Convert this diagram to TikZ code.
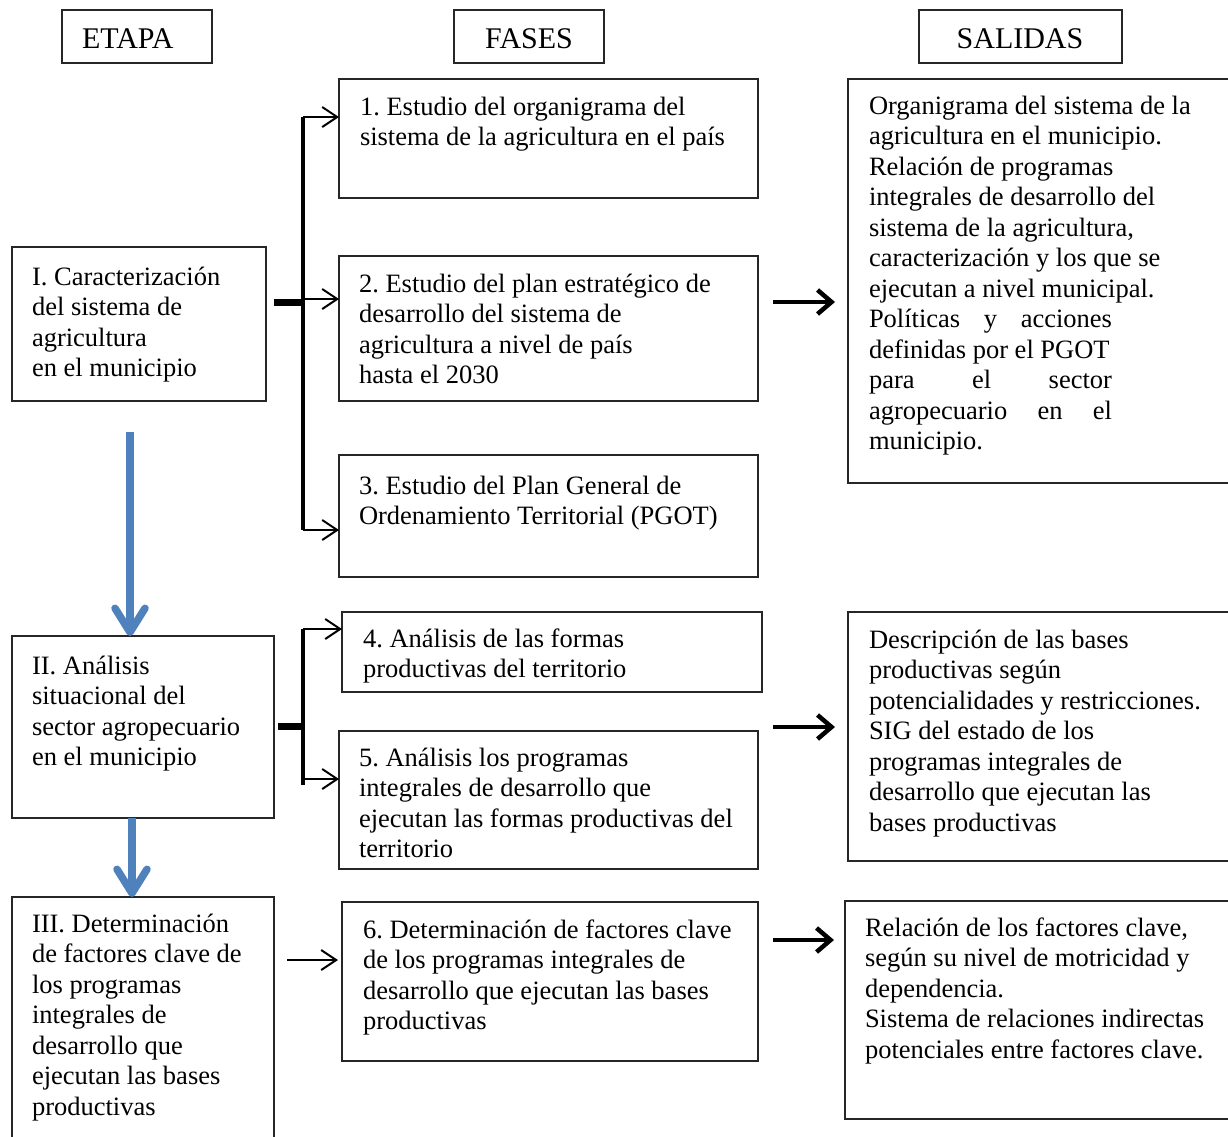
\documentclass[tikz,border=0pt]{standalone}
\usepackage{fontspec}
\setmainfont{Liberation Serif}
\usetikzlibrary{arrows.meta}
\definecolor{stageblue}{HTML}{4F81BD}
\frenchspacing
\tikzset{
  box/.style={draw=black!85, line width=1.1pt, anchor=north west, inner sep=0pt, outer sep=0pt},
  txt/.style={anchor=base west, inner sep=0pt, outer sep=0pt, font=\fontsize{26.5}{30.5}\selectfont\frenchspacing},
  headtxt/.style={anchor=base, inner sep=0pt, outer sep=0pt, font=\fontsize{30}{34}\selectfont},
  bracketline/.style={line width=3.5pt},
  stubline/.style={line width=7pt},
  thinarrow/.style={line width=2pt, -{Straight Barb[length=15pt,width=20pt]}},
  thickarrow/.style={line width=4.5pt, -{Straight Barb[length=14pt,width=24pt]}},
  bluearrow/.style={draw=stageblue, line width=7.5pt, -{Straight Barb[length=24pt,width=30pt,round]}},
}
\newcommand{\lines}[1]{\begin{tabular}[t]{@{}l@{}}#1\end{tabular}}
\begin{document}
\begin{tikzpicture}[x=1pt,y=-1pt]
\useasboundingbox (0,0) rectangle (1228,1136);
\fill[white] (0,0) rectangle (1228,1136);
\clip (0,0) rectangle (1228,1136);

% headers
\node[box, minimum width=150pt, minimum height=53pt] (hE) at (62,10) {};
\node[box, minimum width=150pt, minimum height=53pt] (hF) at (454,10) {};
\node[box, minimum width=203pt, minimum height=53pt] (hS) at (919,10) {};
\node[headtxt, anchor=base west] (hEt) at (82,48) {ETAPA};
\node[headtxt] (hFt) at (529,48) {FASES};
\node[headtxt] (hSt) at (1020,48) {SALIDAS};

% etapa boxes
\node[box, minimum width=254pt, minimum height=154pt] (E1) at (12,247) {};
\node[box, minimum width=262pt, minimum height=182pt] (E2) at (12,636) {};
\node[box, minimum width=262pt, minimum height=260pt] (E3) at (12,897) {};
\node[txt] (E1t) at (32,285) {\lines{I. Caracterización\\del sistema de\\agricultura\\en el municipio}};
\node[txt] (E2t) at (32,674) {\lines{II. Análisis\\situacional del\\sector agropecuario\\en el municipio}};
\node[txt] (E3t) at (32,932) {\lines{III. Determinación\\de factores clave de\\los programas\\integrales de\\desarrollo que\\ejecutan las bases\\productivas}};

% fase boxes
\node[box, minimum width=419pt, minimum height=119pt] (F1) at (339,79) {};
\node[box, minimum width=419pt, minimum height=145pt] (F2) at (339,256) {};
\node[box, minimum width=419pt, minimum height=122pt] (F3) at (339,455) {};
\node[box, minimum width=420pt, minimum height=80pt] (F4) at (342,612) {};
\node[box, minimum width=419pt, minimum height=138pt] (F5) at (339,731) {};
\node[box, minimum width=416pt, minimum height=159pt] (F6) at (342,902) {};
\node[txt] (F1t) at (360,115) {\lines{1. Estudio del organigrama del\\sistema de la agricultura en el país}};
\node[txt] (F2t) at (359,292) {\lines{2. Estudio del plan estratégico de\\desarrollo del sistema de\\agricultura a nivel de país\\hasta el 2030}};
\node[txt] (F3t) at (359,494) {\lines{3. Estudio del Plan General de\\Ordenamiento Territorial (PGOT)}};
\node[txt] (F4t) at (363,647) {\lines{4. Análisis de las formas\\productivas del territorio}};
\node[txt] (F5t) at (359,766) {\lines{5. Análisis los programas\\integrales de desarrollo que\\ejecutan las formas productivas del\\territorio}};
\node[txt] (F6t) at (363,938) {\lines{6. Determinación de factores clave\\de los programas integrales de\\desarrollo que ejecutan las bases\\productivas}};

% salida boxes
\node[box, minimum width=400pt, minimum height=404pt] (S1) at (848,79) {};
\node[box, minimum width=400pt, minimum height=249pt] (S2) at (848,612) {};
\node[box, minimum width=404pt, minimum height=218pt] (S3) at (845,901) {};
\node[txt] (S1t) at (869,114) {\lines{Organigrama del sistema de la\\agricultura en el municipio.\\Relación de programas\\integrales de desarrollo del\\sistema de la agricultura,\\caracterización y los que se\\ejecutan a nivel municipal.\\\makebox[243pt][s]{Políticas\hfill y\hfill acciones}\\definidas por el PGOT\\\makebox[243pt][s]{para\hfill el\hfill sector}\\\makebox[243pt][s]{agropecuario\hfill en\hfill el}\\municipio.}};
\node[txt] (S2t) at (869,648) {\lines{Descripción de las bases\\productivas según\\potencialidades y restricciones.\\SIG del estado de los\\programas integrales de\\desarrollo que ejecutan las\\bases productivas}};
\node[txt] (S3t) at (865,936) {\lines{Relación de los factores clave,\\según su nivel de motricidad y\\dependencia.\\Sistema de relaciones indirectas\\potenciales entre factores clave.}};

% bracket 1
\coordinate (j1) at (303,302);
\coordinate (j1a) at (303,117);
\coordinate (j1b) at (303,299);
\coordinate (j1c) at (303,530);
\draw[stubline] ([xshift=8pt]E1.east |- j1) -- (j1);
\draw[bracketline] (j1a) -- (j1c);
\draw[thinarrow] (j1a) -- (j1a -| F1.west);
\draw[thinarrow] (j1b) -- (j1b -| F2.west);
\draw[thinarrow] (j1c) -- (j1c -| F3.west);

% bracket 2
\coordinate (j2) at (303,726);
\coordinate (j2a) at (303,629);
\coordinate (j2b) at (303,779);
\draw[stubline] ([xshift=4pt]E2.east |- j2) -- (j2);
\draw[bracketline] (j2a) -- ([yshift=-6pt]j2b);
\draw[thinarrow] (j2a) -- (j2a -| F4.west);
\draw[thinarrow] (j2b) -- (j2b -| F5.west);

% III -> 6
\coordinate (j3) at (287,960);
\draw[thinarrow, shorten >=4pt] (j3) -- (j3 -| F6.west);

% blue stage arrows
\coordinate (b1) at (130,432);
\draw[bluearrow] (b1) -- (b1 |- E2.north);
\coordinate (b2) at (132,818);
\draw[bluearrow] (b2 |- E2.south) -- (b2 |- E3.north);

% thick arrows to outputs
\coordinate (k1) at (773,302);
\coordinate (k2) at (773,727);
\coordinate (k3) at (773,940);
\draw[thickarrow, shorten >=13pt] (k1) -- (k1 -| S1.west);
\draw[thickarrow, shorten >=13pt] (k2) -- (k2 -| S2.west);
\draw[thickarrow, shorten >=11pt] (k3) -- (k3 -| S3.west);
\end{tikzpicture}
\end{document}
